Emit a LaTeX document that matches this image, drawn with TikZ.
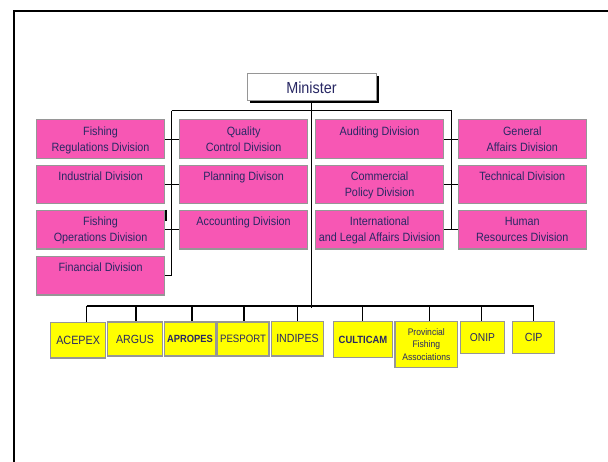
\documentclass[tikz,border=0pt]{standalone}
\usepackage{fontspec}
\setmainfont{Liberation Sans}[FakeStretch=0.9]
\definecolor{pinkbox}{RGB}{247,87,180}
\definecolor{yelbox}{RGB}{255,255,0}
\definecolor{boxline}{RGB}{150,150,150}
\definecolor{navytext}{RGB}{40,40,100}
\begin{document}
\begin{tikzpicture}[x=1pt,y=-1pt,
  pbox/.style={draw=boxline,line width=1.2pt,fill=pinkbox,minimum width=128pt,minimum height=38.5pt,inner sep=0pt,anchor=north west},
  ptxt/.style={anchor=north,inner sep=0pt,align=center,text=navytext,font=\fontsize{12}{16}\selectfont,yshift=-7pt},
  ybox/.style={draw=boxline,line width=1.2pt,fill=yelbox,inner sep=0pt,text=navytext,font=\fontsize{11.8}{14}\selectfont},
  conn/.style={draw=black,line width=1.1pt}]
\useasboundingbox (0,0) rectangle (608,462);
% frame
\draw[line width=2.2pt] (14,462) -- (14,11) -- (608,11);
% minister
\fill (249.5,76.5) rectangle (378.5,103.2);
\node[draw=boxline,line width=1pt,fill=white,minimum width=129pt,minimum height=26.7pt,inner sep=0pt,text=navytext,font=\fontsize{16}{18}\selectfont] (min) at (311.5,87.3) {Minister};
% pink boxes
\node[pbox] (fr) at (36,119.3) {};
\node[ptxt] (frT) at (fr.north) {Fishing\\Regulations Division};
\node[pbox] (ind) at (36,164.7) {};
\node[ptxt] (indT) at (ind.north) {Industrial Division};
\node[pbox] (fo) at (36,210) {};
\node[ptxt] (foT) at (fo.north) {Fishing\\Operations Division};
\node[pbox] (fin) at (36,256) {};
\node[ptxt] (finT) at (fin.north) {Financial Division};
\node[pbox] (qc) at (179,119.3) {};
\node[ptxt] (qcT) at (qc.north) {Quality\\Control Division};
\node[pbox] (pl) at (179,164.7) {};
\node[ptxt] (plT) at (pl.north) {Planning Divison};
\node[pbox] (acc) at (179,210) {};
\node[ptxt] (accT) at (acc.north) {Accounting Division};
\node[pbox] (aud) at (315,119.3) {};
\node[ptxt] (audT) at (aud.north) {Auditing Division};
\node[pbox] (com) at (315,164.7) {};
\node[ptxt] (comT) at (com.north) {Commercial\\Policy Division};
\node[pbox] (int) at (315,210) {};
\node[ptxt] (intT) at (int.north) {International\\and Legal Affairs Division};
\node[pbox] (gen) at (457.7,119.3) {};
\node[ptxt] (genT) at (gen.north) {General\\Affairs Division};
\node[pbox] (tec) at (457.7,164.7) {};
\node[ptxt] (tecT) at (tec.north) {Technical Division};
\node[pbox] (hum) at (457.7,210) {};
\node[ptxt] (humT) at (hum.north) {Human\\Resources Division};
% brackets
\coordinate (lt) at (171.7,110.7);
\coordinate (rt) at (451.7,110.7);
\coordinate (mb) at (311.7,308);
\draw[conn] (lt) -- (rt);
\draw[conn] (lt) -- (lt |- fin.east) -- (fin.east);
\draw[conn] (rt) -- (rt |- hum.west);
\draw[conn] (fr.east) -- (qc.west);
\draw[conn] (ind.east) -- (pl.west);
\draw[conn] (fo.east) -- (acc.west);
\draw[conn] (aud.east) -- (gen.west);
\draw[conn] (com.east) -- (tec.west);
\draw[conn] (int.east) -- (hum.west);
\draw[conn] (166,210) -- (166,221);
\draw[conn] (min.south -| mb) -- (mb);
% yellow boxes
\node[ybox,minimum width=55pt,minimum height=35.3pt,font=\fontsize{12}{14}\selectfont] (acepex) at (78.2,340.3) {ACEPEX};
\node[ybox,minimum width=54.6pt,minimum height=34pt] (argus) at (135,339) {ARGUS};
\node[ybox,minimum width=51.4pt,minimum height=34pt,font=\fontsize{10.4}{12}\selectfont\bfseries] (apropes) at (190,339) {APROPES};
\node[ybox,minimum width=52pt,minimum height=34pt,font=\fontsize{10.7}{12}\selectfont] (pesport) at (243,339) {PESPORT};
\node[ybox,minimum width=51.6pt,minimum height=34.7pt] (indipes) at (297.5,338.7) {INDIPES};
\node[ybox,minimum width=59.4pt,minimum height=35.6pt,font=\fontsize{10.5}{12}\selectfont\bfseries] (culticam) at (363,339.5) {CULTICAM};
\node[ybox,minimum width=62.7pt,minimum height=45.6pt,align=center,font=\fontsize{9.5}{12.2}\selectfont] (pfa) at (426.3,344.5) {Provincial\\Fishing\\Associations};
\node[ybox,minimum width=43.6pt,minimum height=32.4pt,font=\fontsize{11.4}{14}\selectfont] (onip) at (482.5,337.5) {ONIP};
\node[ybox,minimum width=42pt,minimum height=32.4pt] (cip) at (533.7,337.5) {CIP};
% bus
\coordinate (b1) at (86.7,306);
\coordinate (b9) at (533.7,306);
\draw[conn] (b1) -- (b9);
\draw[conn] (b1) -- (b1 |- acepex.north);
\draw[conn] (136,306) -- (136,306 |- argus.north);
\draw[conn] (192,306) -- (192,306 |- apropes.north);
\draw[conn] (244,306) -- (244,306 |- pesport.north);
\draw[conn] (297.3,306) -- (297.3,306 |- indipes.north);
\draw[conn] (362.7,306) -- (362.7,306 |- culticam.north);
\draw[conn] (429.7,306) -- (429.7,306 |- pfa.north);
\draw[conn] (481.7,306) -- (481.7,306 |- onip.north);
\draw[conn] (b9) -- (b9 |- cip.north);
\end{tikzpicture}
\end{document}
